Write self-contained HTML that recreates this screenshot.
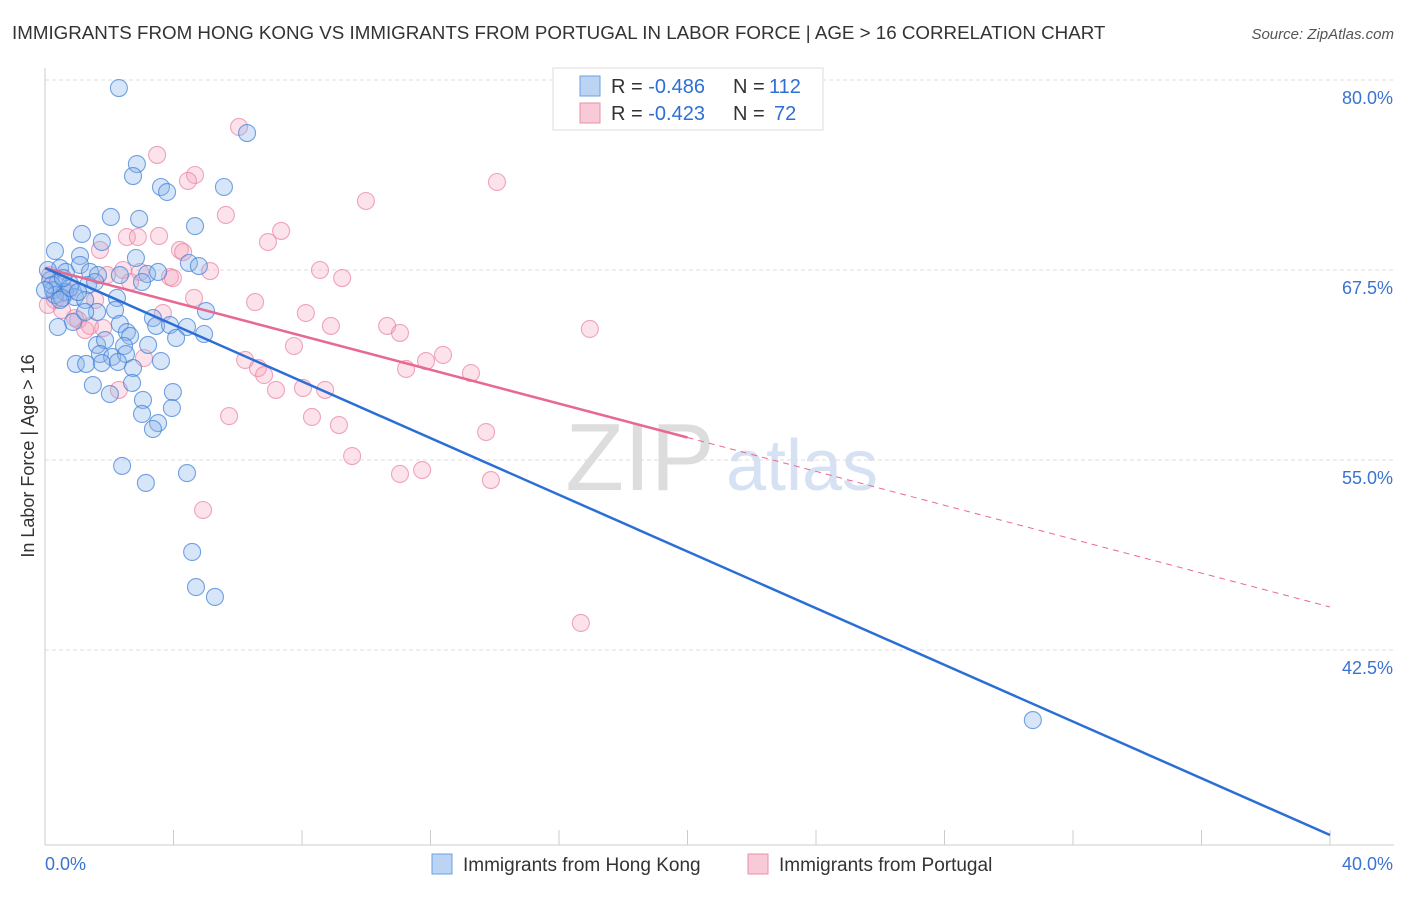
<!DOCTYPE html>
<html><head><meta charset="utf-8"><style>
body{margin:0;background:#fff;font-family:"Liberation Sans",sans-serif;}
svg text{font-family:"Liberation Sans",sans-serif;}
</style></head><body>
<svg id="c" width="1406" height="892" xmlns="http://www.w3.org/2000/svg">
<text x="12" y="39" font-size="18.75" fill="#333">IMMIGRANTS FROM HONG KONG VS IMMIGRANTS FROM PORTUGAL IN LABOR FORCE | AGE &gt; 16 CORRELATION CHART</text>
<text x="1394" y="39" font-size="15" fill="#555" font-style="italic" text-anchor="end">Source: ZipAtlas.com</text>
<text x="640" y="490" font-size="96" fill="#ddd" font-family="Liberation Serif" text-anchor="middle">ZIP</text>
<text x="802" y="490" font-size="72" fill="#d6e2f3" text-anchor="middle">atlas</text>
<g id="grid"></g><g id="axes"></g><g id="pts"></g><g id="lines"></g>
<text transform="translate(34,456) rotate(-90)" font-size="18" fill="#333" text-anchor="middle">In Labor Force | Age &gt; 16</text>
<g>
<rect x="553" y="68" width="270" height="62" fill="#fff" stroke="#ddd"/>
<rect x="580" y="76" width="20" height="20" fill="#bcd4f4" stroke="#6a9fe0"/>
<rect x="580" y="103" width="20" height="20" fill="#f8c9d6" stroke="#ea8fab"/>
<text x="611" y="93" font-size="20" fill="#333">R = <tspan fill="#2f6fd4">-0.486</tspan></text>
<text x="733" y="93" font-size="20" fill="#333">N =</text>
<text x="769" y="93" font-size="20" fill="#2f6fd4">112</text>
<text x="611" y="120" font-size="20" fill="#333">R = <tspan fill="#2f6fd4">-0.423</tspan></text>
<text x="733" y="120" font-size="20" fill="#333">N =</text>
<text x="774" y="120" font-size="20" fill="#2f6fd4">72</text>
</g>
<g>
<rect x="432" y="854" width="20" height="20" fill="#bcd4f4" stroke="#6a9fe0"/>
<text x="463" y="871" font-size="19" fill="#333">Immigrants from Hong Kong</text>
<rect x="748" y="854" width="20" height="20" fill="#f8c9d6" stroke="#ea8fab"/>
<text x="779" y="871" font-size="19" fill="#333">Immigrants from Portugal</text>
</g>
</svg>
<script>
const yTicks=[80,67.5,55,42.5];
const yTickLabels=["80.0%","67.5%","55.0%","42.5%"];
const xTickLabels=["0.0%","40.0%"];
const blueTrend=[67.63,30.33];
const pinkTrend=[67.63,45.33];
const pinkSolidEnd=20;
const hkPx=[[119,88],[247,133],[137,164],[133,176],[161,187],[167,192],[224,187],[111,217],[139,219],[195,226],[82,234],[102,242],[55,251],[80,256],[136,258],[189,263],[199,266],[60,268],[66,272],[80,265],[90,272],[98,275],[120,275],[147,274],[158,272],[50,280],[58,282],[70,284],[88,285],[95,282],[142,282],[53,290],[65,292],[75,297],[85,300],[117,298],[55,295],[62,298],[97,312],[115,310],[206,311],[73,322],[58,327],[85,312],[120,324],[127,332],[153,318],[156,326],[170,325],[187,327],[176,338],[204,334],[130,336],[97,345],[105,340],[124,346],[148,345],[100,354],[112,357],[126,354],[76,364],[86,364],[102,363],[118,362],[133,368],[161,361],[93,385],[110,394],[132,383],[143,400],[173,392],[142,414],[172,408],[158,423],[153,429],[122,466],[146,483],[187,473],[192,552],[196,587],[215,597],[1033,720],[48,270],[52,285],[60,300],[70,288],[78,292],[45,290],[63,278]];
const ptPx=[[239,127],[157,155],[195,175],[188,181],[366,201],[497,182],[226,215],[127,237],[138,237],[159,236],[281,231],[268,242],[100,250],[180,250],[183,252],[210,271],[320,270],[342,278],[170,277],[173,278],[107,275],[123,270],[140,272],[130,282],[255,302],[194,298],[306,313],[331,326],[387,326],[400,333],[590,329],[163,313],[78,320],[90,326],[103,328],[245,360],[258,368],[264,375],[276,390],[294,346],[303,388],[325,390],[406,369],[426,361],[443,355],[471,373],[144,358],[229,416],[312,417],[339,425],[486,432],[352,456],[400,474],[422,470],[491,480],[203,510],[581,623],[119,390],[55,300],[62,310],[48,305],[68,292],[75,318],[85,330],[50,275],[95,300]];
const hkX=hkPx.map(p=>+((p[0]-45)/32.125).toFixed(2));
const hkY=hkPx.map(p=>+(80-(p[1]-80)/15.2).toFixed(2));
const ptX=ptPx.map(p=>+((p[0]-45)/32.125).toFixed(2));
const ptY=ptPx.map(p=>+(80-(p[1]-80)/15.2).toFixed(2));
const X=v=>45+v*32.125, Y=v=>80+(80-v)*15.2;
const NS="http://www.w3.org/2000/svg";
function mk(t,a,parent){const e=document.createElementNS(NS,t);for(const k in a)e.setAttribute(k,a[k]);document.getElementById(parent).appendChild(e);return e;}
yTicks.forEach((t,i)=>{
 const l=mk('line',{x1:45,x2:1394,y1:Y(t),y2:Y(t),stroke:'#ddd','stroke-dasharray':'4,3'},'grid');
 
 
 const tx=mk('text',{x:1393,y:Y(t)+24,'font-size':18,fill:'#3b73d0','text-anchor':'end'},'grid');tx.textContent=yTickLabels[i];
 
 
});
let a=mk('line',{x1:45,x2:45,y1:68,y2:845,stroke:'#ccc'},'axes');


a=mk('line',{x1:45,x2:1394,y1:845,y2:845,stroke:'#ccc'},'axes');


for(let i=1;i<=10;i++){const t=mk('line',{x1:45+i*128.5,x2:45+i*128.5,y1:830,y2:845,stroke:'#ccc'},'axes');
 
 }
let xl=mk('text',{x:45,y:870,'font-size':18,fill:'#3b73d0'},'axes');xl.textContent=xTickLabels[0];


xl=mk('text',{x:1393,y:870,'font-size':18,fill:'#3b73d0','text-anchor':'end'},'axes');xl.textContent=xTickLabels[1];


ptX.forEach((x,i)=>{const c=mk('circle',{cx:X(x),cy:Y(ptY[i]),r:8.5,fill:'rgba(244,160,185,0.3)',stroke:'rgba(234,130,160,0.7)','stroke-width':1.1},'pts');
 
 });
hkX.forEach((x,i)=>{const c=mk('circle',{cx:X(x),cy:Y(hkY[i]),r:8.5,fill:'rgba(140,180,235,0.35)',stroke:'rgba(60,125,215,0.7)','stroke-width':1.1},'pts');
 
 });
const pm=(pinkTrend[1]-pinkTrend[0])/40;
let l=mk('line',{x1:X(0),y1:Y(pinkTrend[0]),x2:X(pinkSolidEnd),y2:Y(pinkTrend[0]+pm*pinkSolidEnd),stroke:'#e8698f','stroke-width':2.5},'lines');


l=mk('line',{x1:X(pinkSolidEnd),y1:Y(pinkTrend[0]+pm*pinkSolidEnd),x2:X(40),y2:Y(pinkTrend[1]),stroke:'#e8698f','stroke-width':1,'stroke-dasharray':'6,5'},'lines');


l=mk('line',{x1:X(0),y1:Y(blueTrend[0]),x2:X(40),y2:Y(blueTrend[1]),stroke:'#2b6fd6','stroke-width':2.5},'lines');


</script>
</body></html>
